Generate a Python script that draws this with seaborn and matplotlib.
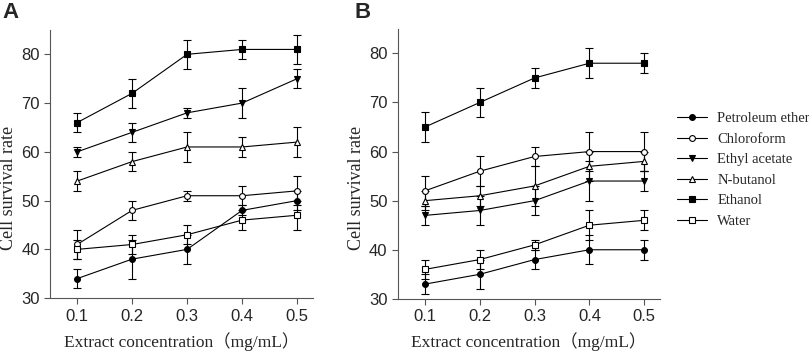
import matplotlib
matplotlib.use("Agg")
import matplotlib.pyplot as plt
import seaborn as sns
import pandas as pd

conc = [0.1, 0.2, 0.3, 0.4, 0.5]
solvents = ["Petroleum ether", "Chloroform", "Ethyl acetate", "N-butanol", "Ethanol", "Water"]

# panel A
a_petroleum = [34, 38, 40, 48, 50]
a_petroleum_err = [2, 4, 3, 1, 2]
a_chloroform = [41, 48, 51, 51, 52]
a_chloroform_err = [3, 2, 1, 2, 3]
a_ethyl = [60, 64, 68, 70, 75]
a_ethyl_err = [1, 2, 1, 3, 2]
a_butanol = [54, 58, 61, 61, 62]
a_butanol_err = [2, 2, 3, 2, 3]
a_ethanol = [66, 72, 80, 81, 81]
a_ethanol_err = [2, 3, 3, 2, 3]
a_water = [40, 41, 43, 46, 47]
a_water_err = [2, 2, 2, 2, 3]

# panel B
b_petroleum = [33, 35, 38, 40, 40]
b_petroleum_err = [2, 3, 2, 3, 2]
b_chloroform = [52, 56, 59, 60, 60]
b_chloroform_err = [3, 3, 2, 4, 4]
b_ethyl = [47, 48, 50, 54, 54]
b_ethyl_err = [2, 3, 3, 4, 2]
b_butanol = [50, 51, 53, 57, 58]
b_butanol_err = [2, 2, 4, 3, 2]
b_ethanol = [65, 70, 75, 78, 78]
b_ethanol_err = [3, 3, 2, 3, 2]
b_water = [36, 38, 41, 45, 46]
b_water_err = [2, 2, 1, 3, 2]

panel_a = [(a_petroleum, a_petroleum_err), (a_chloroform, a_chloroform_err),
           (a_ethyl, a_ethyl_err), (a_butanol, a_butanol_err),
           (a_ethanol, a_ethanol_err), (a_water, a_water_err)]
panel_b = [(b_petroleum, b_petroleum_err), (b_chloroform, b_chloroform_err),
           (b_ethyl, b_ethyl_err), (b_butanol, b_butanol_err),
           (b_ethanol, b_ethanol_err), (b_water, b_water_err)]

markers = ["o", "o", "v", "^", "s", "s"]
filled = [True, False, True, False, True, False]
msizes = [4.2, 4.2, 5, 5, 4.8, 4.8]

sns.set_style("ticks")
plt.rcParams["font.family"] = ["Liberation Sans", "DejaVu Sans"]

fig = plt.figure(figsize=(8.09, 3.52), dpi=100)
ax_a = fig.add_axes([0.062, 0.153, 0.325, 0.762])
ax_b = fig.add_axes([0.492, 0.151, 0.324, 0.767])

serif = ["Liberation Serif", "Noto Sans CJK SC"]

for ax, panel in [(ax_a, panel_a), (ax_b, panel_b)]:
    for i, (vals, errs) in enumerate(panel):
        df = pd.DataFrame({"conc": conc, "rate": vals})
        ax.errorbar(conc, vals, yerr=errs, fmt="none", ecolor="black",
                    elinewidth=0.8, capsize=3, capthick=0.8, zorder=1)
        sns.lineplot(data=df, x="conc", y="rate", ax=ax, color="black",
                     linewidth=0.8, marker=markers[i], markersize=msizes[i],
                     markerfacecolor="black" if filled[i] else "white",
                     markeredgecolor="black", markeredgewidth=0.8,
                     label=solvents[i], zorder=2)
    ax.set_xlim(0.051, 0.529)
    ax.set_ylim(30, 85)
    ax.set_xticks(conc)
    ax.set_xticklabels(["0.1", "0.2", "0.3", "0.4", "0.5"])
    ax.set_yticks([30, 40, 50, 60, 70, 80])
    ax.tick_params(labelsize=12, length=4, width=0.8, color="#555555")
    for s in ["left", "bottom"]:
        ax.spines[s].set_linewidth(0.8)
        ax.spines[s].set_color("#555555")
    sns.despine(ax=ax)
    ax.set_xlabel("Extract concentration（mg/mL）", family=serif, fontsize=12.5, labelpad=6)
    ax.set_ylabel("Cell survival rate", family=serif, fontsize=13)
    ax.yaxis.set_label_coords(-0.125, 0.41)
    ax.get_legend().remove()

handles, labels = ax_b.get_legend_handles_labels()
fig.legend(handles, labels, loc="upper left", bbox_to_anchor=(0.8297, 0.698),
           frameon=False, prop={"family": "Liberation Serif", "size": 10.5},
           handlelength=2.05, handletextpad=0.7, labelspacing=0.5, borderaxespad=0)

fig.text(0.003, 0.995, "A", fontsize=16, fontweight="bold", va="top")
fig.text(0.438, 0.995, "B", fontsize=16, fontweight="bold", va="top")

fig.savefig("out.png", dpi=100)
